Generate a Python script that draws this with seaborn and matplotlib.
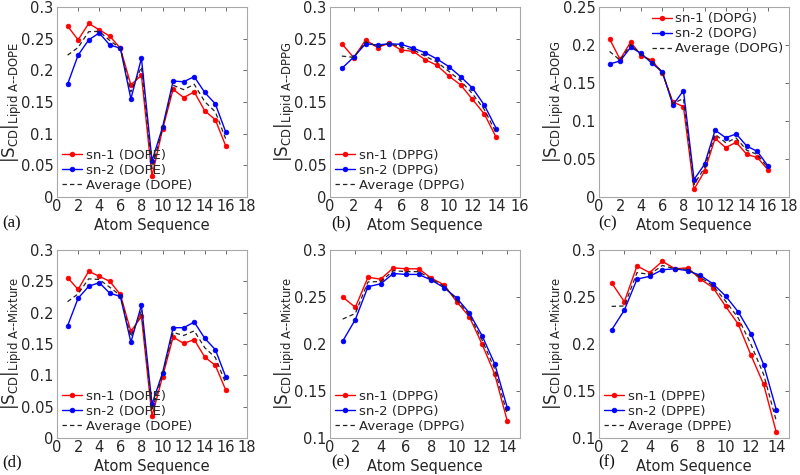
import numpy as np
import pandas as pd
import matplotlib
matplotlib.use("Agg")
import matplotlib.pyplot as plt
from matplotlib.ticker import FuncFormatter, MultipleLocator
from matplotlib import font_manager
import seaborn as sns

# ---------------- data ----------------
atoms16 = list(range(1, 17))
atoms14 = list(range(1, 15))

sn1_a = [0.270, 0.248, 0.274, 0.264, 0.254, 0.235, 0.177, 0.192, 0.033, 0.107, 0.170, 0.157, 0.166, 0.136, 0.122, 0.080]
sn2_a = [0.178, 0.224, 0.248, 0.259, 0.240, 0.235, 0.155, 0.219, 0.057, 0.110, 0.183, 0.182, 0.190, 0.165, 0.147, 0.102]
avg_a = [0.224, 0.236, 0.261, 0.2615, 0.247, 0.235, 0.166, 0.2055, 0.045, 0.1085, 0.1765, 0.1695, 0.178, 0.1505, 0.1345, 0.091]

sn1_b = [0.242, 0.220, 0.248, 0.236, 0.243, 0.232, 0.230, 0.217, 0.208, 0.191, 0.177, 0.154, 0.131, 0.094]
sn2_b = [0.203, 0.221, 0.242, 0.240, 0.242, 0.241, 0.235, 0.228, 0.218, 0.206, 0.190, 0.172, 0.145, 0.108]
avg_b = [0.2225, 0.2205, 0.245, 0.238, 0.2425, 0.2365, 0.2325, 0.2225, 0.213, 0.1985, 0.1835, 0.163, 0.138, 0.101]

sn1_c = [0.208, 0.181, 0.204, 0.186, 0.180, 0.163, 0.125, 0.119, 0.010, 0.034, 0.077, 0.065, 0.072, 0.056, 0.052, 0.036]
sn2_c = [0.175, 0.179, 0.197, 0.189, 0.176, 0.165, 0.121, 0.140, 0.023, 0.043, 0.088, 0.078, 0.083, 0.067, 0.060, 0.041]
avg_c = [0.1915, 0.180, 0.2005, 0.1875, 0.178, 0.164, 0.123, 0.1295, 0.0165, 0.0385, 0.0825, 0.0715, 0.0775, 0.0615, 0.056, 0.0385]

sn1_d = [0.256, 0.237, 0.266, 0.258, 0.250, 0.229, 0.170, 0.194, 0.035, 0.098, 0.161, 0.151, 0.157, 0.129, 0.116, 0.076]
sn2_d = [0.179, 0.223, 0.242, 0.248, 0.231, 0.226, 0.153, 0.212, 0.054, 0.104, 0.176, 0.176, 0.185, 0.159, 0.141, 0.097]
avg_d = [0.2175, 0.230, 0.254, 0.253, 0.2405, 0.2275, 0.1615, 0.203, 0.0445, 0.101, 0.1685, 0.1635, 0.171, 0.144, 0.1285, 0.0865]

sn1_e = [0.250, 0.239, 0.271, 0.269, 0.281, 0.280, 0.280, 0.270, 0.263, 0.245, 0.229, 0.200, 0.168, 0.118]
sn2_e = [0.203, 0.226, 0.261, 0.264, 0.275, 0.274, 0.274, 0.268, 0.260, 0.249, 0.233, 0.209, 0.179, 0.132]
avg_e = [0.2265, 0.2325, 0.266, 0.2665, 0.278, 0.277, 0.277, 0.269, 0.2615, 0.247, 0.231, 0.2045, 0.1735, 0.125]

sn1_f = [0.265, 0.245, 0.283, 0.276, 0.288, 0.280, 0.281, 0.269, 0.260, 0.240, 0.221, 0.188, 0.157, 0.106]
sn2_f = [0.215, 0.236, 0.269, 0.272, 0.279, 0.280, 0.278, 0.273, 0.264, 0.251, 0.234, 0.211, 0.178, 0.130]
avg_f = [0.240, 0.2405, 0.276, 0.274, 0.2835, 0.280, 0.2795, 0.271, 0.262, 0.2455, 0.2275, 0.1995, 0.1675, 0.118]

panel_letters = ["(a)", "(b)", "(c)", "(d)", "(e)", "(f)"]
lipids = ["DOPE", "DPPG", "DOPG", "DOPE", "DPPG", "DPPE"]
subscripts = ["Lipid A--DOPE", "Lipid A--DPPG", "Lipid A--DOPG",
              "Lipid A--Mixture", "Lipid A--Mixture", "Lipid A--Mixture"]
xlims = [(0, 18), (0, 16), (0, 18), (0, 18), (0, 15), (0, 15)]
ylims = [(0, 0.3), (0, 0.3), (0, 0.25), (0, 0.3), (0.1, 0.3), (0.1, 0.3)]
legend_locs = ["lower left", "lower left", "upper right", "lower left", "lower left", "lower left"]
xlabel_text = "Atom Sequence"

panels = [
    (atoms16, sn1_a, sn2_a, avg_a),
    (atoms14, sn1_b, sn2_b, avg_b),
    (atoms16, sn1_c, sn2_c, avg_c),
    (atoms16, sn1_d, sn2_d, avg_d),
    (atoms14, sn1_e, sn2_e, avg_e),
    (atoms14, sn1_f, sn2_f, avg_f),
]

# ---------------- style ----------------
sns.set_style("white")
names = {f.name for f in font_manager.fontManager.ttflist}
main_font = "DejaVu Sans Condensed" if "DejaVu Sans Condensed" in names else "DejaVu Sans"
plt.rcParams["font.family"] = [main_font, "DejaVu Sans"]
plt.rcParams["mathtext.default"] = "regular"
text_color = "#262626"
spine_color = "#a8a8a8"

W, H = 800, 475
fig = plt.figure(figsize=(8, 4.75), dpi=100)

col_left = [57, 330, 599]
ax_w = 190
row_top = [7, 250]
ax_h = [190, 188]

fmt = FuncFormatter(lambda v, p: f"{v:g}")

for i, (x, s1, s2, av) in enumerate(panels):
    r, c = divmod(i, 3)
    left = col_left[c] / W
    bottom = 1 - (row_top[r] + ax_h[r]) / H
    ax = fig.add_axes([left, bottom, ax_w / W, ax_h[r] / H])
    lip = lipids[i]
    df = pd.DataFrame({"atom": x, "sn1": s1, "sn2": s2, "avg": av})
    sns.lineplot(data=df, x="atom", y="sn1", ax=ax, color="#ff0000", lw=1.0,
                 marker="o", markersize=3.4, markeredgecolor="#ff0000",
                 markeredgewidth=0.5, label=f"sn-1 ({lip})")
    sns.lineplot(data=df, x="atom", y="sn2", ax=ax, color="#0000ff", lw=1.0,
                 marker="o", markersize=3.4, markeredgecolor="#0000ff",
                 markeredgewidth=0.5, label=f"sn-2 ({lip})")
    sns.lineplot(data=df, x="atom", y="avg", ax=ax, color="#222222", lw=0.9,
                 linestyle=(0, (3.5, 2.5)), label=f"Average ({lip})")
    ax.set_xlim(*xlims[i])
    ax.set_ylim(*ylims[i])
    ax.xaxis.set_major_locator(MultipleLocator(2))
    ax.yaxis.set_major_locator(MultipleLocator(0.05))
    ax.yaxis.set_major_formatter(fmt)
    ax.xaxis.set_major_formatter(fmt)
    ax.tick_params(direction="in", length=3, width=0.6, color="#555555",
                   top=True, right=True, labelsize=10.5, labelcolor=text_color)
    ax.tick_params(axis="x", pad=1.5)
    ax.tick_params(axis="y", pad=2.5)
    for sp in ax.spines.values():
        sp.set_color(spine_color)
        sp.set_linewidth(0.8)
    ax.set_xlabel(xlabel_text, fontsize=10.5, color=text_color, labelpad=2.5)
    ax.set_ylabel(r"$|S_{CD}|_{" + r"\text{" + subscripts[i] + r"}}$",
                  fontsize=12, color=text_color)
    ax.yaxis.set_label_coords(-0.175, 0.5)
    leg = ax.legend(loc=legend_locs[i], frameon=False, fontsize=9.5,
                    handlelength=1.5, handletextpad=0.3, labelspacing=0.15,
                    borderaxespad=0.2, borderpad=0.2)
    for t in leg.get_texts():
        t.set_color(text_color)
    # panel letter
    lx = [2, 331, 598][c] / W
    ly = 1 - [223, 462][r] / H
    fig.text(lx, ly, panel_letters[i], fontsize=12, family="Liberation Serif",
             color="#111111", va="center", ha="left")

fig.savefig("out.png", dpi=100, facecolor="white")
